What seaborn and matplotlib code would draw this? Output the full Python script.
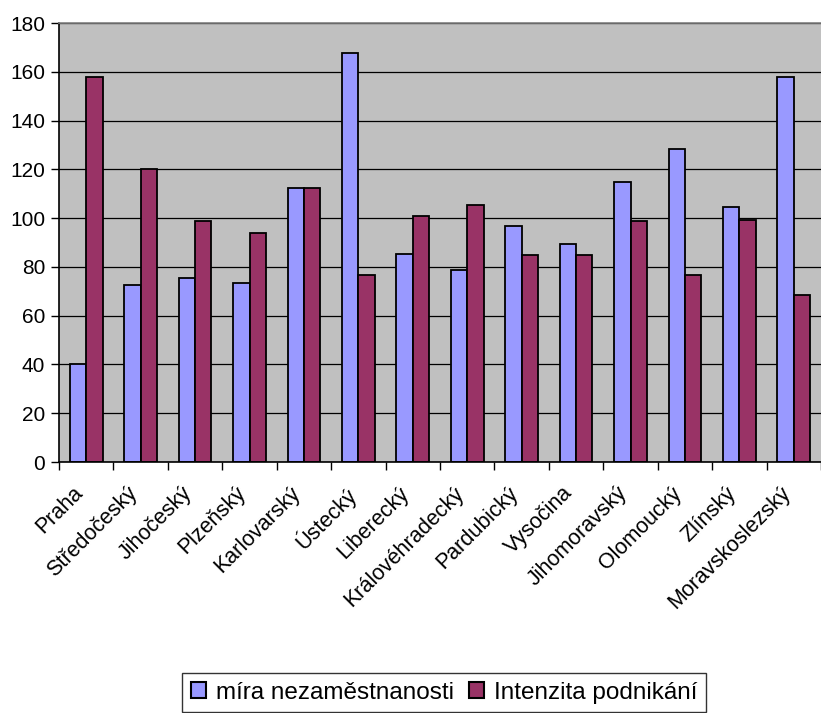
import numpy as np
import pandas as pd
import matplotlib
matplotlib.use("Agg")
import matplotlib.pyplot as plt
import matplotlib.transforms as mtransforms
import seaborn as sns
from matplotlib.patches import Patch

regions = ["Praha", "Středočeský", "Jihočeský", "Plzeňský", "Karlovarský", "Ústecký",
           "Liberecký", "Královéhradecký", "Pardubický", "Vysočina", "Jihomoravský",
           "Olomoucký", "Zlínský", "Moravskoslezský"]
mira_nezamestnanosti = [40.3, 72.4, 75.6, 73.2, 112.4, 167.7, 85.3, 78.9, 96.8, 89.5, 115.0, 128.2, 104.4, 157.8]
intenzita_podnikani = [157.8, 120.0, 98.8, 93.7, 112.4, 76.5, 100.9, 105.2, 84.7, 84.7, 98.8, 76.5, 99.4, 68.3]
series_names = ["míra nezaměstnanosti", "Intenzita podnikání"]
yticks = [0, 20, 40, 60, 80, 100, 120, 140, 160, 180]

df = pd.DataFrame({
    "region": regions * 2,
    "value": mira_nezamestnanosti + intenzita_podnikani,
    "series": [series_names[0]] * len(regions) + [series_names[1]] * len(regions),
})

sns.set_theme(style="white")
plt.rcParams["font.family"] = ["Liberation Sans", "DejaVu Sans"]
plt.rcParams["text.color"] = "black"
plt.rcParams["xtick.color"] = "black"
plt.rcParams["ytick.color"] = "black"
plt.rcParams["xtick.labelcolor"] = "black"
plt.rcParams["ytick.labelcolor"] = "black"

colors = ["#9999FF", "#993366"]
fig = plt.figure(figsize=(8.21, 7.13), dpi=100)
ax = fig.add_axes([59 / 821, 1 - 462 / 713, 1 - 59 / 821, (462 - 23) / 713])
ax.set_facecolor("#C0C0C0")

sns.barplot(data=df, x="region", y="value", hue="series", palette=colors,
            width=0.6, edgecolor="black", linewidth=1.3, ax=ax, legend=False,
            saturation=1, order=regions, hue_order=series_names)

ax.set_ylim(0, 180)
ax.set_xlim(-0.5, len(regions) - 0.5)
ax.set_yticks(yticks)
ax.set_yticklabels([str(v) for v in yticks], fontsize=15)
ax.yaxis.grid(True, color="black", linewidth=0.9)
ax.set_axisbelow(True)
ax.set_xlabel("")
ax.set_ylabel("")

ax.set_xticks(np.arange(-0.5, len(regions), 1.0), minor=True)
ax.tick_params(axis="x", which="major", length=0, pad=12)
ax.tick_params(axis="x", which="minor", length=6, width=1, color="black", direction="out", bottom=True)
ax.tick_params(axis="y", which="major", length=6, width=1, color="black", direction="out", left=True, pad=4)

ax.set_xticks(range(len(regions)))
ax.set_xticklabels(regions, rotation=45, ha="right", rotation_mode="anchor", fontsize=15.5)
offset = mtransforms.ScaledTranslation(-14 / 100, -4 / 100, fig.dpi_scale_trans)
for lbl in ax.get_xticklabels():
    lbl.set_transform(lbl.get_transform() + offset)

for s in ["left", "bottom"]:
    ax.spines[s].set_color("black")
    ax.spines[s].set_linewidth(1.2)
ax.spines["top"].set_color("#808080")
ax.spines["top"].set_linewidth(1.2)
ax.spines["right"].set_visible(False)

handles = [Patch(facecolor=c, edgecolor="black", linewidth=1.5, label=n) for c, n in zip(colors, series_names)]
leg = fig.legend(handles=handles, loc="upper center", bbox_to_anchor=(444 / 821, 1 - 673 / 713),
                 ncol=2, frameon=True, fancybox=False, fontsize=17.5, handlelength=0.65,
                 handleheight=0.65, handletextpad=0.4, columnspacing=0.6, borderpad=0.35,
                 borderaxespad=0, edgecolor="black")
leg.get_frame().set_linewidth(1.0)

fig.savefig("out.png", dpi=100)
